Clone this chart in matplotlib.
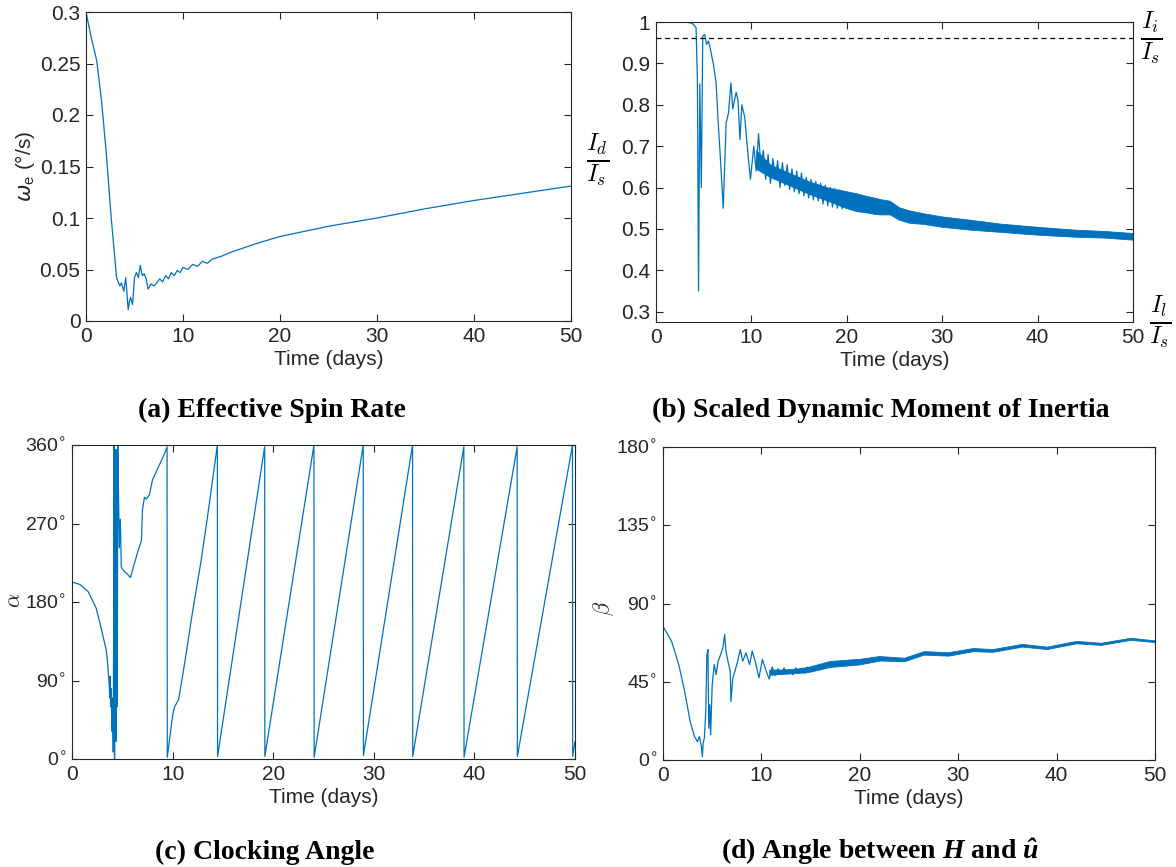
import matplotlib
matplotlib.use("Agg")
import matplotlib.pyplot as plt
import matplotlib.transforms as mtransforms

plt.rcParams["font.family"] = ["Liberation Sans", "DejaVu Sans"]
plt.rcParams["mathtext.rm"] = "Liberation Serif:bold"
plt.rcParams["mathtext.bf"] = "Liberation Serif:italic:bold"
plt.rcParams["mathtext.it"] = "Liberation Serif:italic:bold"

BLUE = "#0072BD"
INK = "#262626"
W, H = 1176, 867

# (a) effective spin rate, deg/s
a_t = [0, 0.5, 1.1, 1.6, 2.1, 2.6, 3.0, 3.15, 3.5, 3.65, 3.77, 3.9, 4.1, 4.35, 4.5, 4.6,
       4.8, 5.0, 5.2, 5.4, 5.6, 5.8, 6.0, 6.2, 6.4, 6.7, 7.0, 7.3, 7.6, 7.9, 8.2, 8.5,
       8.8, 9.1, 9.4, 9.7, 10.0, 10.5, 11.0, 11.5, 12.0, 12.5, 13.0, 14.0, 15.0, 17.5,
       20.0, 25.0, 30.0, 35.0, 40.0, 45.0, 50.0]
a_w = [0.300, 0.277, 0.253, 0.214, 0.162, 0.100, 0.058, 0.042, 0.034, 0.037, 0.033, 0.029,
       0.042, 0.011, 0.020, 0.023, 0.016, 0.042, 0.047, 0.042, 0.054, 0.044, 0.046, 0.041,
       0.031, 0.036, 0.034, 0.037, 0.041, 0.038, 0.044, 0.041, 0.047, 0.044, 0.049, 0.047,
       0.052, 0.050, 0.055, 0.053, 0.058, 0.056, 0.060, 0.063, 0.067, 0.075, 0.082, 0.092,
       0.100, 0.109, 0.117, 0.124, 0.131]

# (b) scaled dynamic moment of inertia, transient and oscillating part
b_t = [0, 3.0, 3.8, 4.2, 4.34, 4.46, 4.59, 4.75, 4.9, 5.1, 5.3, 5.5, 5.7, 6.0, 6.3, 6.5,
       6.7, 7.05, 7.35, 7.6, 7.85, 8.05, 8.4, 8.6, 8.8, 9.0, 9.3, 9.6, 9.9,
       10.25, 10.5, 10.75, 11.0, 11.25, 11.5, 11.75, 12.0, 12.25, 12.5, 12.75, 13.0,
       13.25, 13.5, 13.75, 14.0, 14.25, 14.5, 14.75, 15.0, 15.25, 15.5, 15.75, 16.0,
       16.25, 16.5, 16.75, 17.0, 17.25, 17.5, 17.75, 18.0, 18.25, 18.5, 18.75, 19.0,
       19.25, 19.5, 19.75, 20.0]
b_r = [1.0, 1.0, 0.997, 0.986, 0.86, 0.35, 0.85, 0.60, 0.966, 0.97, 0.946, 0.954, 0.934,
       0.90, 0.853, 0.764, 0.69, 0.55, 0.756, 0.78, 0.853, 0.79, 0.83, 0.81, 0.716, 0.80,
       0.77, 0.69, 0.62,
       0.70, 0.64, 0.73, 0.65, 0.69, 0.62, 0.68, 0.61, 0.67, 0.62, 0.665, 0.60,
       0.66, 0.605, 0.655, 0.595, 0.645, 0.59, 0.64, 0.585, 0.635, 0.58, 0.625, 0.575,
       0.62, 0.57, 0.615, 0.568, 0.61, 0.56, 0.605, 0.556, 0.60, 0.553, 0.597, 0.55,
       0.594, 0.548, 0.59, 0.55]
# (b) dense oscillation band
bb_t = [10.5, 12, 14, 16, 18, 19.75, 21, 22, 23, 23.5, 24.5, 25.5, 26.5, 28, 30, 33, 36,
        40, 44, 47, 50]
bb_lo = [0.645, 0.625, 0.605, 0.585, 0.568, 0.552, 0.543, 0.540, 0.536, 0.535, 0.535,
         0.522, 0.515, 0.512, 0.505, 0.498, 0.493, 0.486, 0.481, 0.479, 0.474]
bb_hi = [0.69, 0.655, 0.635, 0.615, 0.600, 0.592, 0.586, 0.580, 0.575, 0.572, 0.568,
         0.552, 0.545, 0.538, 0.530, 0.522, 0.513, 0.505, 0.498, 0.495, 0.490]
B_INTER = 0.961

# (c) clocking angle, deg
c_t = [0, 0.8, 1.6, 2.4, 2.9, 3.2, 3.4, 3.5, 3.6, 3.7, 3.75, 3.8, 3.85, 3.9, 3.95, 4.0,
       4.05, 4.1, 4.15, 4.17, 4.2, 4.23, 4.26, 4.28, 4.3, 4.33, 4.36, 4.4, 4.43, 4.46,
       4.5, 4.55, 4.6, 4.7, 4.8, 4.9, 5.2, 5.5, 5.8, 6.1, 6.3, 6.6, 6.9, 7.0, 7.2, 7.4,
       7.7, 8.0, 8.4, 8.8, 9.2, 9.45, 9.47, 10.0, 10.2, 10.6, 11.2, 12.0, 12.8, 13.5,
       14.45, 14.47, 19.15, 19.17, 24.05, 24.07, 28.95, 28.97, 33.85, 33.87, 38.95,
       38.97, 44.25, 44.27, 49.75, 49.77, 50.0]
c_a = [203, 200, 192, 173, 150, 135, 125, 116, 100, 85, 70, 95, 60, 81, 40, 31, 70, 8, 200,
       359, 150, 0, 355, 80, 200, 30, 355, 20, 205, 120, 60, 360, 322, 242, 275, 220, 215,
       212, 208, 220, 228, 240, 250, 285, 300, 298, 303, 320, 330, 340, 350, 358, 2, 50,
       60, 68, 110, 170, 225, 280, 360, 3, 358, 3, 360, 2, 360, 4, 360, 3, 358, 2, 358,
       3, 360, 3, 20]

# (d) angle between H and u-hat, deg
d_t = [0, 0.87, 1.6, 2.2, 2.76, 3.2, 3.5, 3.7, 3.9, 4.0, 4.08, 4.2, 4.35, 4.46, 4.57,
       4.65, 4.76, 4.84, 5.0, 5.2, 5.4, 5.6, 5.86, 6.08, 6.27, 6.4, 6.6, 6.84, 6.9, 7.1,
       7.3, 7.5, 7.86, 8.1, 8.43, 8.8, 9.07, 9.37, 9.75, 10.1, 10.5, 10.8, 11.1, 11.4,
       11.7, 12.0, 12.3, 12.6, 12.9, 13.2, 13.5, 13.8, 14.1, 14.4, 14.7, 15.0]
d_b = [77, 68.3, 54.9, 39.5, 22.1, 13.5, 10.6, 13.5, 7.7, 1.9, 9.6, 12.5, 27.9, 60.6,
       63.5, 18.3, 31.8, 14.4, 43.3, 54.9, 49.1, 56.8, 60.6, 64.5, 72.2, 62.6, 56.8, 51.0,
       33.7, 47.2, 51.0, 54.9, 63.5, 56.8, 61.6, 54.9, 62.6, 56.8, 47.2, 57.8, 51.0,
       46.5, 53.5, 48.5, 52.5, 49.0, 53.0, 49.5, 52.0, 49.0, 53.0, 50.0, 52.5, 49.8,
       53.5, 51.0]
db_t = [10.8, 12, 13.5, 14.7, 17, 20, 22, 24.5, 26.5, 29, 31.5, 33.5, 36.5, 39, 42, 44.5,
        47.5, 50]
db_lo = [49.0, 49.5, 50.0, 50.5, 53.5, 55.0, 57.2, 56.8, 60.6, 60.0, 62.6, 62.2, 65.2,
         63.8, 67.1, 66.2, 69.1, 67.8]
db_hi = [52.0, 52.0, 52.5, 53.5, 57.0, 58.2, 59.8, 58.8, 62.6, 62.0, 64.4, 63.8, 66.8,
         65.2, 68.5, 67.4, 70.3, 68.8]


def px_axes(fig, left, right, top, bottom):
    return fig.add_axes([left / W, 1 - bottom / H, (right - left) / W, (bottom - top) / H])


def style(ax, size=15):
    ax.tick_params(direction="in", top=True, right=True, length=5, width=0.8,
                   colors=INK, labelsize=size, pad=4)
    ax.tick_params(axis="x", labelsize=15)
    for s in ax.spines.values():
        s.set_color(INK)
        s.set_linewidth(0.8)
    ax.set_xlim(0, 50)
    ax.set_xticks(range(0, 51, 10))
    ax.set_xlabel("Time (days)", fontsize=15, color=INK, labelpad=3)


def deg_labels(vals):
    return [r"$\mathregular{%d}^{\circ}$" % v for v in vals]


fig = plt.figure(figsize=(W / 100, H / 100), dpi=100)

# (a)
ax = px_axes(fig, 86, 571, 12, 321)
ax.plot(a_t, a_w, color=BLUE, lw=0.9)
style(ax)
ax.set_ylim(0, 0.3)
ax.set_yticks([0, 0.05, 0.1, 0.15, 0.2, 0.25, 0.3])
ax.set_yticklabels(["0", "0.05", "0.1", "0.15", "0.2", "0.25", "0.3"])
fig.text(25 / W, 1 - 166 / H, r"$\omega_{\mathregular{e}}$ (°/s)", rotation=90,
         ha="center", va="center", fontsize=15, color=INK)

# (b)
ax = px_axes(fig, 656, 1133, 22, 322)
ax.plot(b_t, b_r, color=BLUE, lw=0.9)
ax.fill_between(bb_t, bb_lo, bb_hi, color=BLUE, lw=0.6, edgecolor=BLUE)
ax.axhline(B_INTER, color="k", ls=(0, (4, 3)), lw=0.9)
style(ax)
ax.set_ylim(0.275, 1.0)
ax.set_yticks([0.3, 0.4, 0.5, 0.6, 0.7, 0.8, 0.9, 1.0])
ax.set_yticklabels(["0.3", "0.4", "0.5", "0.6", "0.7", "0.8", "0.9", "1"])
tr = mtransforms.blended_transform_factory(ax.transAxes, ax.transData)
ax.text(1.037, B_INTER, r"$\frac{I_i}{I_s}$", transform=tr, ha="center", va="center",
        fontsize=25, math_fontfamily="cm", clip_on=False)
ax.text(1.056, 0.275, r"$\frac{I_l}{I_s}$", transform=tr, ha="center", va="center",
        fontsize=25, math_fontfamily="cm", clip_on=False)
fig.text(598 / W, 1 - 160 / H, r"$\frac{I_d}{I_s}$", ha="center", va="center",
         fontsize=25, math_fontfamily="cm")

# (c)
ax = px_axes(fig, 72, 575, 445, 759)
ax.plot(c_t, c_a, color=BLUE, lw=0.9)
style(ax, size=14)
ax.set_ylim(0, 360)
ax.set_yticks([0, 90, 180, 270, 360])
ax.set_yticklabels(deg_labels([0, 90, 180, 270, 360]))
fig.text(15 / W, 1 - 600 / H, r"$\alpha$", rotation=90, ha="center", va="center",
         fontsize=16, math_fontfamily="cm", color=INK)

# (d)
ax = px_axes(fig, 663, 1155, 447, 760)
ax.plot(d_t, d_b, color=BLUE, lw=0.9)
ax.fill_between(db_t, db_lo, db_hi, color=BLUE, lw=0.6, edgecolor=BLUE)
style(ax, size=14)
ax.set_ylim(0, 180)
ax.set_yticks([0, 45, 90, 135, 180])
ax.set_yticklabels(deg_labels([0, 45, 90, 135, 180]))
fig.text(604 / W, 1 - 608 / H, r"$\beta$", rotation=90, ha="center", va="center",
         fontsize=16, math_fontfamily="cm", color=INK)

# captions
cap = dict(ha="center", va="center", fontsize=20, fontweight="bold", family="Liberation Serif")
fig.text(272 / W, 1 - 410 / H, "(a) Effective Spin Rate", **cap)
fig.text(881 / W, 1 - 410 / H, "(b) Scaled Dynamic Moment of Inertia", **cap)
fig.text(265 / W, 1 - 852 / H, "(c) Clocking Angle", **cap)
fig.text(880 / W, 1 - 852 / H, r"(d) Angle between $\mathbf{H}$ and $\mathbf{\hat{u}}$",
         math_fontfamily="custom", **cap)

fig.savefig("out.png", dpi=100)
